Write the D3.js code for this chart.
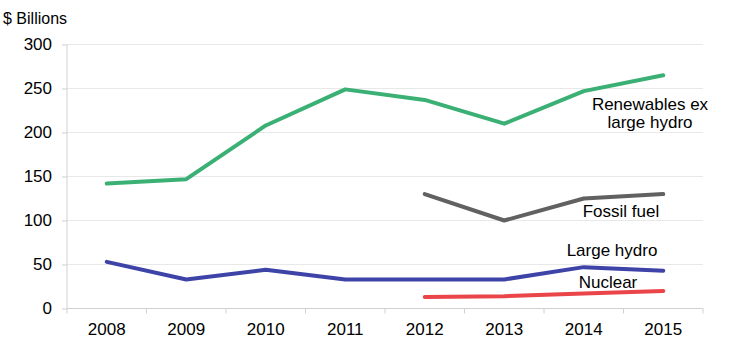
<!DOCTYPE html>
<html><head><meta charset="utf-8">
<script src="https://cdn.jsdelivr.net/npm/d3@7"></script>
<style>body{margin:0;background:#fff;}svg{display:block;font-family:"Liberation Sans",Arial,sans-serif;}</style>
</head><body>
<svg id="c" width="740" height="346"></svg>
<script>
const years = ["2008","2009","2010","2011","2012","2013","2014","2015"];
const yTicks = [0,50,100,150,200,250,300];
const renewables = [142,147,208,249,237,210,247,265];
const fossil = [null,null,null,null,130,100,125,130];
const largeHydro = [53,33,44,33,33,33,47,43];
const nuclear = [null,null,null,null,13,14,17,20];
const seriesNames = ["Renewables ex large hydro","Fossil fuel","Large hydro","Nuclear"];
const colors = ["#3bb075","#616161","#3e43a8","#ea4549"];

(function(){
const svg = d3.select("#c");
const pLeft = 67, pRight = 703, pTop = 44.5, pBottom = 308.5;
const x = d3.scaleBand().domain(years).range([pLeft,pRight]);
const y = d3.scaleLinear().domain([0,300]).range([pBottom,pTop]);
const FONT = "Liberation Sans, Arial, sans-serif";

// gridlines
svg.append("g").selectAll("line").data(yTicks).join("line")
  .attr("x1",pLeft).attr("x2",pRight).attr("y1",d=>y(d)).attr("y2",d=>y(d))
  .attr("stroke",d=>d===0?"#d0d0d0":"#e8e8e8").attr("stroke-width",1);

// y axis
const ya = svg.append("g").attr("transform",`translate(${pLeft},0)`)
  .call(d3.axisLeft(y).tickValues(yTicks).tickSize(5).tickPadding(10));
ya.select(".domain").attr("stroke","#d0d0d0").attr("d",`M-0,${pTop}V${pBottom+5}`);
ya.selectAll(".tick line").attr("stroke","#d0d0d0");
ya.selectAll("text").attr("font-size",17).attr("fill","#000").attr("font-family",FONT);

// x axis
const xa = svg.append("g").attr("transform",`translate(0,${pBottom})`)
  .call(d3.axisBottom(x).tickSize(0).tickPadding(14.5));
xa.select(".domain").remove();
xa.selectAll("text").attr("font-size",17).attr("fill","#000").attr("font-family",FONT);
// band boundary ticks
svg.append("g").selectAll("line").data(years).join("line")
  .attr("x1",d=>x(d)+x.step()).attr("x2",d=>x(d)+x.step())
  .attr("y1",pBottom).attr("y2",pBottom+5).attr("stroke","#d0d0d0");

// lines
const data = [renewables,fossil,largeHydro,nuclear];
const line = d3.line().defined(d=>d.v!=null)
  .x(d=>x(d.year)+x.bandwidth()/2).y(d=>y(d.v));
data.forEach((arr,i)=>{
  svg.append("path")
    .datum(arr.map((v,j)=>({year:years[j],v})))
    .attr("d",line).attr("fill","none").attr("stroke",colors[i])
    .attr("stroke-width",4).attr("stroke-linejoin","round").attr("stroke-linecap","round");
});

// labels
const labels = [
  {lines:["Renewables ex","large hydro"], x:650, y:110},
  {lines:["Fossil fuel"], x:621, y:217},
  {lines:["Large hydro"], x:612, y:256},
  {lines:["Nuclear"], x:608, y:288}
];
labels.forEach(l=>{
  const t = svg.append("text").attr("text-anchor","middle").attr("font-size",17).attr("fill","#000");
  l.lines.forEach((s,k)=>t.append("tspan").attr("x",l.x).attr("y",l.y+k*18).text(s));
});

svg.append("text").attr("x",3).attr("y",24).attr("font-size",16).attr("fill","#000").text("$ Billions");
})();
</script>
</body></html>
